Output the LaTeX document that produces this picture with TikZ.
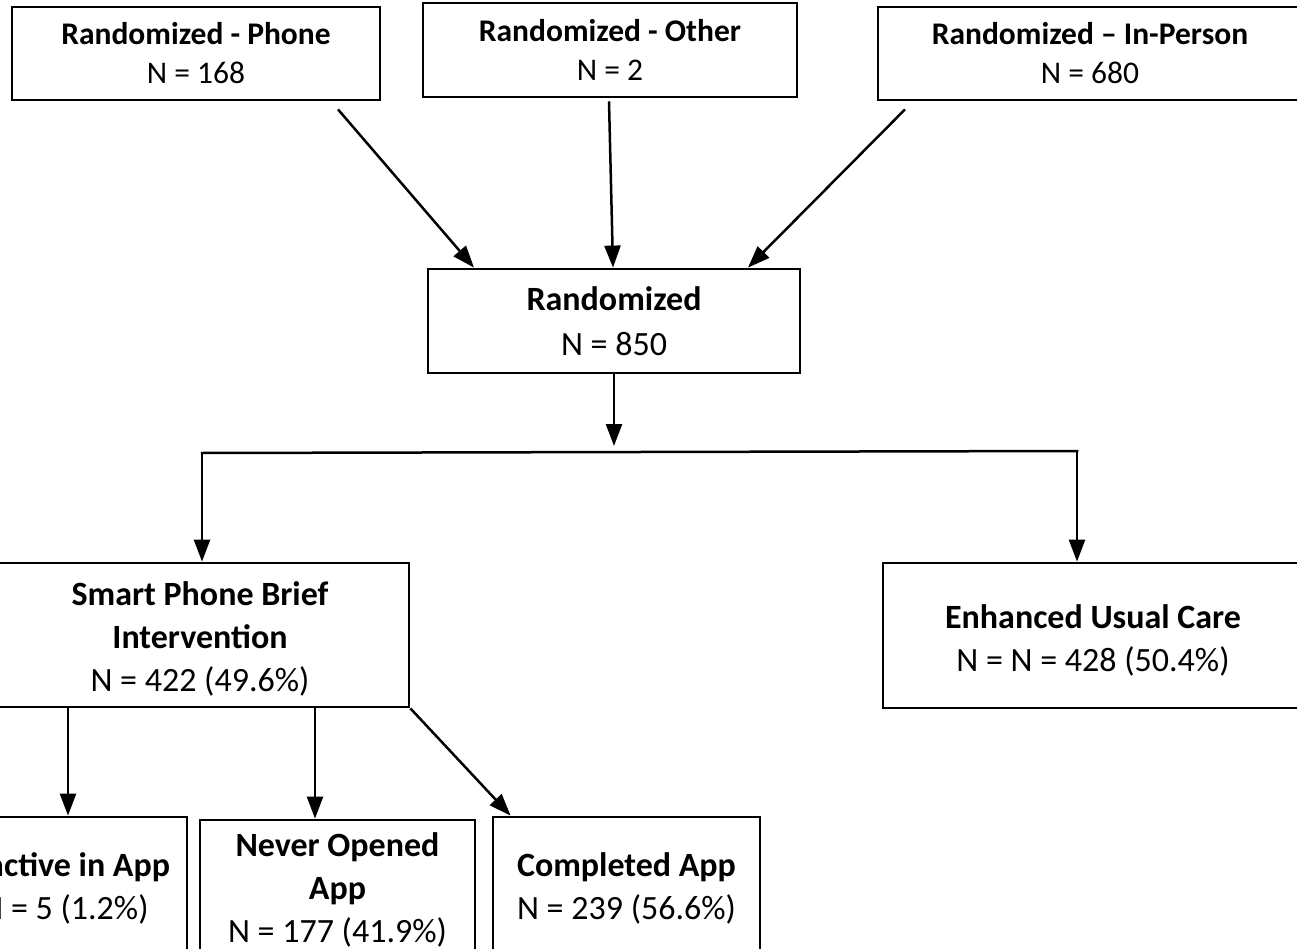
\documentclass[tikz,border=0pt]{standalone}
\usepackage{fontspec}
\setmainfont{Carlito}
\usetikzlibrary{arrows.meta,calc}
\begin{document}
\begin{tikzpicture}[x=1pt,y=-1pt,
  box/.style={draw=black, line width=2.8pt, rectangle, inner sep=0pt,
    align=center, font=\fontsize{34}{43}\selectfont},
  topbox/.style={box, font=\fontsize{31.5}{39}\selectfont},
  txt/.style={inner sep=0pt, align=center, font=\fontsize{34}{43}\selectfont},
  arr/.style={line width=2.5pt, -{Triangle[length=22pt,width=16pt]}},
  ln/.style={line width=2.5pt}]
\useasboundingbox (0,0) rectangle (1297,949);
\clip (0,0) rectangle (1297,949);

% recruitment sources
\node[topbox, minimum width=368pt, minimum height=93pt] (phone) at (196,53.5)
  {\textbf{Randomized - Phone}\\N = 168};
\node[topbox, minimum width=374pt, minimum height=94pt] (other) at (610,50)
  {\textbf{Randomized - Other}\\N = 2};
\node[topbox, minimum width=424pt, minimum height=93pt] (inperson) at (1090,53.5)
  {\textbf{Randomized – In-Person}\\N = 680};

% pooled randomization
\node[box, font=\fontsize{34}{45}\selectfont, minimum width=372pt, minimum height=104pt] (rand) at (614,321)
  {\textbf{Randomized}\\N = 850};

% study arms
\node[box, minimum width=418pt, minimum height=144pt] (smart) at (200,635) {};
\node[txt] (smart-t) at ($(smart.center)+(0,4)$)
  {\textbf{Smart Phone Brief}\\\textbf{Intervention}\\N = 422 (49.6\%)};
\node[box, minimum width=420pt, minimum height=145pt] (enh) at (1093,635.5) {};
\node[txt] (enh-t) at ($(enh.center)+(0,5)$)
  {\textbf{Enhanced Usual Care}\\N = N = 428 (50.4\%)};

% app engagement
\node[box, minimum width=244pt, minimum height=139pt] (inactive) at (65,886.5) {};
\node[txt] (inactive-t) at ($(inactive.center)+(0,2)$)
  {\textbf{Inactive in App}\\N = 5 (1.2\%)};
\node[box, minimum width=275pt, minimum height=136pt] (never) at (337.5,888) {};
\node[txt] (never-t) at ($(never.center)+(0,2)$)
  {\textbf{Never Opened}\\\textbf{App}\\N = 177 (41.9\%)};
\node[box, minimum width=267pt, minimum height=139pt] (completed) at (626.5,886.5) {};
\node[txt] (completed-t) at ($(completed.center)+(0,2)$)
  {\textbf{Completed App}\\N = 239 (56.6\%)};

% sources into randomization
\draw[arr] ([shift={(142,8)}]phone.south) -- ([shift={(-140,0)}]rand.north);
\draw[arr] ([shift={(-1,3)}]other.south) -- ([shift={(-1,0)}]rand.north);
\draw[arr] ([shift={(-185,8)}]inperson.south) -- ([shift={(134,0)}]rand.north);

% split into arms
\coordinate (split) at (614,452);
\coordinate (jl) at (202,453);
\coordinate (jr) at (1077,451);
\draw[arr] (rand.south) -- ($(split)+(0,-6)$);
\draw[ln, line cap=rect] (jl) -- (jr);
\draw[arr] (jl) -- (jl |- smart.north);
\draw[arr] (jr) -- (jr |- enh.north);

% intervention arm outcomes
\coordinate (inx) at (68,0);
\coordinate (nvx) at (315,0);
\draw[arr] (smart.south -| inx) -- (inactive.north -| inx);
\draw[arr] (smart.south -| nvx) -- (never.north -| nvx);
\draw[arr] (smart.south east) -- ($(completed.north west)+(19,0)$);
\end{tikzpicture}
\end{document}
